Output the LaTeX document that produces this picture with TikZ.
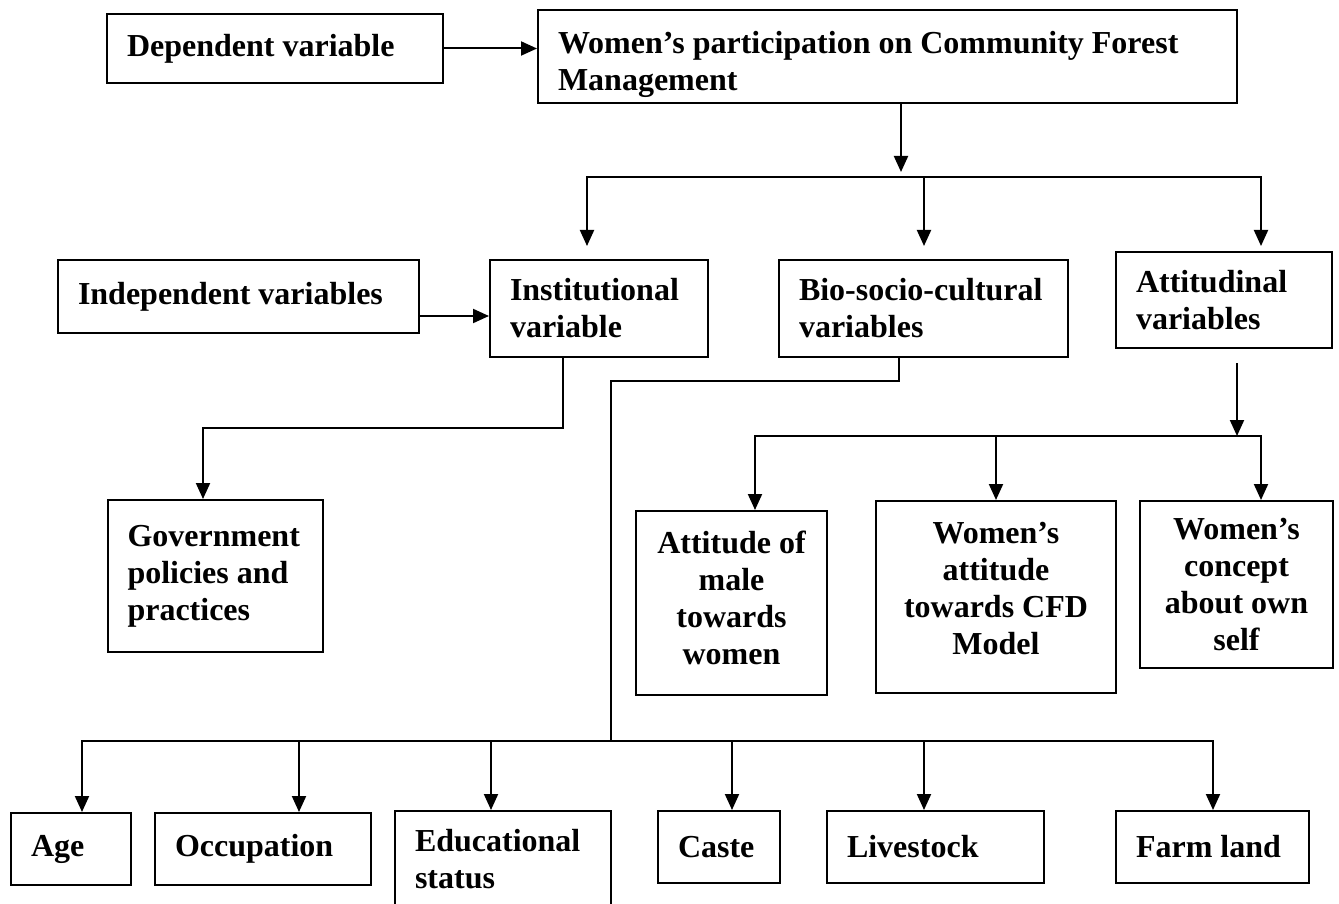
\documentclass[tikz,border=0pt]{standalone}
\usepackage{fontspec}
\setmainfont{Liberation Serif}
\usetikzlibrary{arrows.meta}
\begin{document}
\begin{tikzpicture}[x=1pt, y=-1pt, line width=2pt, line cap=rect, >={Triangle[length=16pt,width=14pt]},
  font={\fontsize{32}{37}\selectfont\bfseries},
  box/.style={draw, rectangle, inner ysep=0pt},
  lbox/.style={box, text width=#1, align=flush left, inner xsep=20pt},
  cbox/.style={box, align=center, inner xsep=0pt}]
  %% picture frame
  \useasboundingbox (0,0) rectangle (1339,904);
  \clip (0,0) rectangle (1339,904);
  %% top row
  \node[lbox=296pt, minimum height=69pt] (dep) at (275,48.5) {Dependent variable};
  \node[lbox=659pt, minimum height=93pt] (women) at (887.5,56.5) {\rule{0pt}{38pt}Women’s participation on Community Forest\\Management};
  %% second row
  \node[lbox=321pt, minimum height=73pt] (indep) at (238.5,296.5) {Independent variables};
  \node[lbox=178pt, minimum height=97pt] (inst) at (599,308.5) {Institutional\\variable};
  \node[lbox=249pt, minimum height=97pt] (bio) at (923.5,308.5) {Bio-socio-cultural\\variables};
  \node[lbox=176pt, minimum height=96pt] (att) at (1224,300) {Attitudinal\\variables};
  %% third row
  \node[lbox=175pt, minimum height=152pt] (gov) at (215,576) {Government\\policies and\\practices};
  \node[cbox, minimum width=191pt, minimum height=184pt] (male) at (731.5,603) {Attitude of\\male\\towards\\women\rule[-10pt]{0pt}{0pt}};
  \node[cbox, minimum width=240pt, minimum height=192pt] (wa) at (996,597) {Women’s\\attitude\\towards CFD\\Model\rule[-18pt]{0pt}{0pt}};
  \node[cbox, minimum width=193pt, minimum height=167pt] (wc) at (1236.5,584.5) {Women’s\\concept\\about own\\self};
  %% bottom row
  \node[lbox=80pt, minimum height=72pt] (age) at (71,849) {Age};
  \node[lbox=176pt, minimum height=72pt] (occ) at (263,849) {Occupation};
  \node[lbox=176pt, minimum height=96pt] (edu) at (503,859) {Educational\\status};
  \node[lbox=82pt, minimum height=72pt] (caste) at (719,847) {Caste};
  \node[lbox=177pt, minimum height=72pt] (live) at (935.5,847) {Livestock};
  \node[lbox=153pt, minimum height=72pt] (farm) at (1212.5,847) {Farm land};
  %% connectors
  \draw[->] (dep) -- (dep -| women.west);
  \coordinate (s1) at (901,177);
  \coordinate (s1a) at (587,177);
  \coordinate (s1b) at (924,177);
  \coordinate (s1c) at (1261,177);
  \draw[->, shorten >=5pt] (women.south -| s1) -- (s1);
  \draw (s1a) -- (s1c);
  \foreach \c/\n/\g in {s1a/inst/13pt, s1b/bio/13pt, s1c/att/5pt}
    \draw[->, shorten >=\g] (\c) -- (\c |- \n.north);
  \draw[->] ([yshift=-19.5pt]indep.east) -- ([yshift=-19.5pt]indep.east -| inst.west);
  \coordinate (k1) at (203,428);
  \draw[->] ([xshift=-36pt]inst.south) |- (k1) -- (k1 |- gov.north);
  %% attitudinal branch
  \coordinate (s2) at (1237,436);
  \coordinate (s2a) at (755,436);
  \coordinate (s2b) at (996,436);
  \coordinate (s2c) at (1261,436);
  \draw[->, shorten <=15pt] (att.south -| s2) -- (s2);
  \draw (s2a) -- (s2c);
  \foreach \c/\n in {s2a/male, s2b/wa, s2c/wc}
    \draw[->] (\c) -- (\c |- \n.north);
  %% bio-socio-cultural branch
  \coordinate (k2) at (611,381);
  \coordinate (s3) at (611,741);
  \coordinate (s3a) at (82,741);
  \coordinate (s3b) at (299,741);
  \coordinate (s3c) at (491,741);
  \coordinate (s3d) at (732,741);
  \coordinate (s3e) at (924,741);
  \coordinate (s3f) at (1213,741);
  \draw ([xshift=-24.5pt]bio.south) |- (k2) -- (s3);
  \draw (s3a) -- (s3f);
  \foreach \c/\n in {s3a/age, s3b/occ, s3c/edu, s3d/caste, s3e/live, s3f/farm}
    \draw[->] (\c) -- (\c |- \n.north);
\end{tikzpicture}
\end{document}
